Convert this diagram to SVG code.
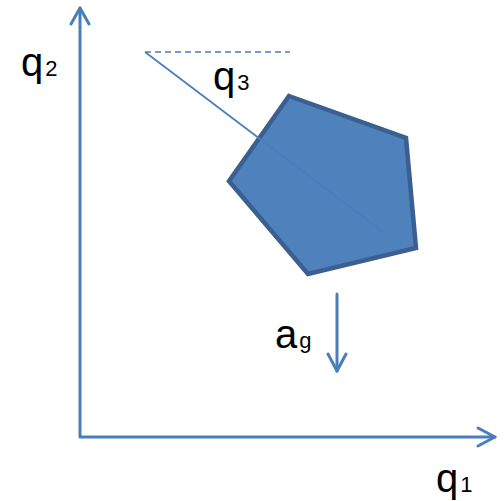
<svg xmlns="http://www.w3.org/2000/svg" width="504" height="501" viewBox="0 0 504 501">
<style>
.ax{fill:none;stroke:#4a7ebb;stroke-width:3;stroke-linecap:round;stroke-linejoin:round}
.thin{fill:none;stroke:#4a7ebb;stroke-width:1.7}
.lbl{font-family:"Liberation Sans",Arial,sans-serif;fill:#000}
.big{font-size:40px}
.sub{font-size:22px}
</style>
<rect width="504" height="501" fill="#fff"/>
<g id="connectors">
<path class="ax" d="M80,8 L80,437 L495,437"/>
<path class="ax" d="M71,24 L80,8 L89,24"/>
<path class="ax" d="M478,428 L495,437 L478,446"/>
<path class="thin" d="M145,52 L290,52" stroke-dasharray="6,4"/>
<path class="ax" d="M337,294 L337,371"/>
<path class="ax" d="M328,354 L337,371 L346,354"/>
</g>
<g id="body">
<polygon points="289,96 406,138 416,248 308,274 229,181" fill="#4f81bd" stroke="#3a5f90" stroke-width="4.5" stroke-linejoin="miter"/>
</g>
<g id="q3line">
<path class="thin" d="M145,52 L383,232"/>
</g>
<g id="label-q2">
<text class="lbl" x="21" y="76"><tspan class="big">q</tspan><tspan class="sub" dx="2">2</tspan></text>
</g>
<g id="label-q3">
<text class="lbl" x="213" y="90"><tspan class="big">q</tspan><tspan class="sub" dx="2">3</tspan></text>
</g>
<g id="label-ag">
<text class="lbl" x="275" y="348"><tspan class="big">a</tspan><tspan class="sub" dx="2">g</tspan></text>
</g>
<g id="label-q1">
<text class="lbl" x="436" y="492"><tspan class="big">q</tspan><tspan class="sub" dx="2">1</tspan></text>
</g>
</svg>
